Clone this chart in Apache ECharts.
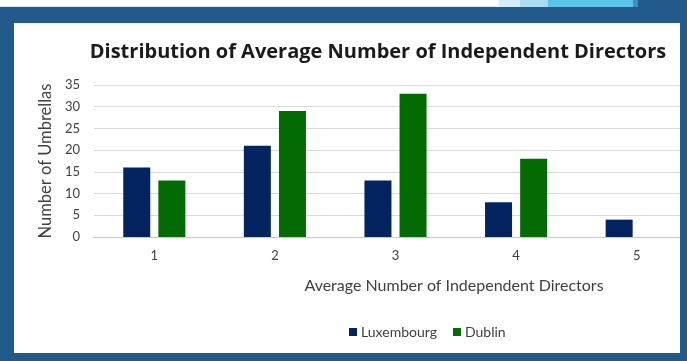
<!DOCTYPE html>
<html>
<head>
<meta charset="utf-8">
<script src="https://cdn.jsdelivr.net/npm/echarts@6/dist/echarts.min.js"></script>
<style>
  html, body { margin: 0; padding: 0; background: #ffffff; width: 687px; height: 361px; overflow: hidden; }
  .abs { position: absolute; }
  #frame { left: 0; top: 7px; width: 687px; height: 354px; background: #235a8c; }
  #topline { left: 0; top: 6px; width: 497px; height: 1px; background: #e6e6e6; }
  #wrap { left: 14px; top: 23px; width: 666px; height: 330px; background: #ffffff; overflow: hidden; }
  #chart { position: absolute; left: 0; top: 0; width: 700px; height: 330px; }
</style>
</head>
<body>
<div class="abs" id="frame"></div>
<div class="abs" id="topline"></div>
<div class="abs" style="left:497px;top:0;width:2px;height:7px;background:#f2fafd;"></div>
<div class="abs" style="left:499px;top:0;width:21px;height:7px;background:#d4edf8;"></div>
<div class="abs" style="left:520px;top:0;width:28px;height:7px;background:#aadcf1;"></div>
<div class="abs" style="left:548px;top:0;width:85px;height:7px;background:#5cc3ea;"></div>
<div class="abs" style="left:633px;top:0;width:5px;height:7px;background:#3a8dc6;"></div>
<div class="abs" style="left:638px;top:0;width:49px;height:7px;background:#235a8c;"></div>
<div class="abs" id="wrap"><div id="chart"></div></div>
<script>
const categories = ['1', '2', '3', '4', '5'];
const luxembourg = [16, 21, 13, 8, 4];
const dublin = [13, 29, 33, 18, 0];
const yTicks = { min: 0, max: 35, interval: 5 };

const chart = echarts.init(document.getElementById('chart'), null, { renderer: 'canvas' });
const FONT = 'Lato';
chart.setOption({
  animation: false,
  backgroundColor: '#ffffff',
  textStyle: { fontFamily: FONT },
  title: [
    {
      text: 'Distribution of Average Number of Independent Directors',
      left: 359, top: 14, textAlign: 'center',
      textStyle: { fontFamily: 'Open Sans', fontWeight: 'bold', fontSize: 20, color: '#1a1a1a' }
    },
    {
      text: 'Average Number of Independent Directors',
      left: 435, top: 250, textAlign: 'center',
      textStyle: { fontFamily: FONT, fontWeight: 'normal', fontSize: 16, color: '#404040' }
    }
  ],
  legend: {
    data: ['Luxembourg', 'Dublin'],
    left: 330, top: 297,
    icon: 'rect', itemWidth: 8, itemHeight: 8, itemGap: 16,
    textStyle: { fontFamily: FONT, fontSize: 14, color: '#404040', padding: [0, 0, 0, -1] }
  },
  grid: { left: 80, top: 62, width: 603, height: 152, containLabel: false },
  xAxis: {
    type: 'category',
    data: categories,
    axisLine: { lineStyle: { color: '#c8c8c8', width: 1 } },
    axisTick: { show: false },
    axisLabel: { fontFamily: FONT, fontSize: 13, color: '#404040', margin: 12 }
  },
  yAxis: {
    type: 'value',
    min: yTicks.min, max: yTicks.max, interval: yTicks.interval,
    name: 'Number of Umbrellas',
    nameLocation: 'middle', nameGap: 35, nameRotate: 90,
    nameTextStyle: { fontFamily: FONT, fontSize: 16.5, color: '#404040' },
    axisLine: { show: false },
    axisTick: { show: false },
    splitLine: { lineStyle: { color: '#dadada', width: 1 } },
    axisLabel: { fontFamily: FONT, fontSize: 13, color: '#404040', margin: 14 }
  },
  series: [
    {
      name: 'Luxembourg', type: 'bar', data: luxembourg,
      barWidth: 27, barGap: '30%',
      itemStyle: { color: '#032361' }
    },
    {
      name: 'Dublin', type: 'bar', data: dublin,
      barWidth: 27,
      itemStyle: { color: '#046a04' }
    }
  ]
});
</script>
</body>
</html>
